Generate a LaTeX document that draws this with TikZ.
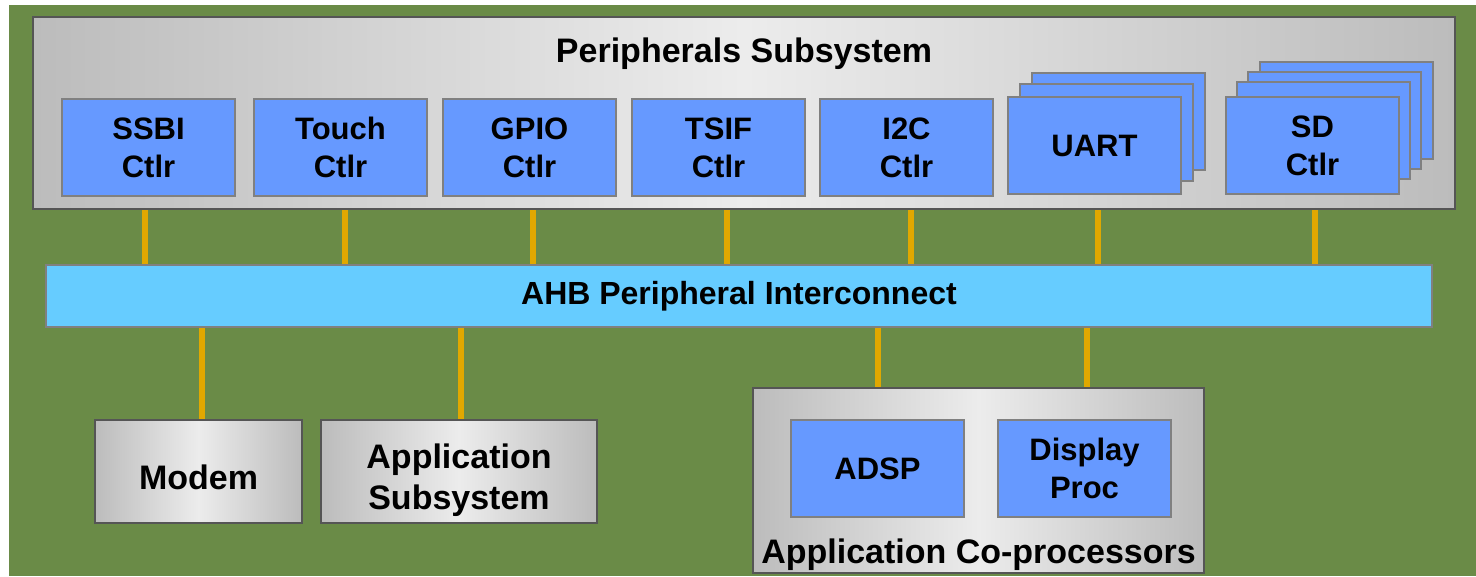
\documentclass[tikz,border=0pt]{standalone}
\usepackage{fontspec}
\setmainfont{Liberation Sans}
\definecolor{board}{RGB}{106,139,71}
\definecolor{ctlblue}{RGB}{102,153,255}
\definecolor{busblue}{RGB}{102,204,255}
\definecolor{ctlline}{RGB}{128,128,128}
\definecolor{subline}{RGB}{85,85,85}
\definecolor{shedge}{RGB}{188,188,188}
\definecolor{shmid}{RGB}{236,236,236}
\definecolor{linkcol}{RGB}{224,168,0}
\newcommand\ctlfont{\fontsize{31}{38}\selectfont\bfseries}
\newcommand\bigfont{\fontsize{34}{41}\selectfont\bfseries}
\newcommand\busfont{\fontsize{32}{38}\selectfont\bfseries}
\pgfdeclarelayer{ground}
\pgfdeclarelayer{links}
\pgfsetlayers{ground,links,main}
\begin{document}
\begin{tikzpicture}[x=1pt,y=-1pt,
  box/.style={rectangle, inner sep=0pt, outer sep=0pt, anchor=north west, align=center},
  ctl/.style={box, draw=ctlline, line width=2pt, fill=ctlblue, font=\ctlfont,
              minimum width=173pt, minimum height=97pt},
  sub/.style={box, draw=subline, line width=2pt,
              left color=shedge, right color=shedge, middle color=shmid},
  link/.style={draw=linkcol, line width=6pt}]
\useasboundingbox (0,0) rectangle (1476,576);
\begin{pgfonlayer}{ground}
  \fill[white] (0,0) rectangle (1476,576);
  \fill[board] (9,5) rectangle (1476,576);
\end{pgfonlayer}

% peripherals subsystem
\node[sub, minimum width=1422pt, minimum height=192pt] (peri) at (33,17) {};
\node[font=\bigfont, anchor=base, inner sep=0pt] (perititle) at (744,62) {Peripherals Subsystem};
\node[ctl] (ssbi)  at (62,99)  {SSBI\\Ctlr};
\node[ctl] (touch) at (254,99) {Touch\\Ctlr};
\node[ctl] (gpio)  at (443,99) {GPIO\\Ctlr};
\node[ctl] (tsif)  at (632,99) {TSIF\\Ctlr};
\node[ctl] (itwoc) at (820,99) {I2C\\Ctlr};
% stacked UART instances
\node[ctl] (uartc) at (1032,73) {};
\node[ctl] (uartb) at (1020,84) {};
\node[ctl] (uart)  at (1008,97) {UART};
% stacked SD controllers
\node[ctl] (sdd) at (1260,62) {};
\node[ctl] (sdc) at (1248,72) {};
\node[ctl] (sdb) at (1237,82) {};
\node[ctl] (sd)  at (1226,97) {SD\\Ctlr};

% interconnect
\node[box, draw=ctlline, line width=2pt, fill=busblue, font=\busfont,
      minimum width=1386pt, minimum height=62pt] (ahb) at (46,265) {AHB Peripheral Interconnect};

% lower subsystems
\node[sub, minimum width=207pt, minimum height=103pt,
      label={[font=\bigfont, yshift=-6pt]center:Modem}] (modem) at (95,420) {};
\node[sub, minimum width=276pt, minimum height=103pt,
      label={[font=\bigfont, align=center, yshift=-9pt]center:Application\\Subsystem}] (appsub) at (321,420) {};
\node[sub, minimum width=451pt, minimum height=185pt] (coproc) at (753,388) {};
\node[font=\bigfont, anchor=base, inner sep=0pt] (coproctitle) at (978.5,563) {Application Co-processors};
\node[ctl] (adsp) at (791,420) {ADSP};
\node[ctl] (disp) at (998,420) {Display\\Proc};

% bus links
\path (ssbi.south)  ++(-3.5,0) coordinate (l1);
\path (touch.south) ++(4,0)    coordinate (l2);
\path (gpio.south)  ++(3,0)    coordinate (l3);
\path (tsif.south)  ++(8,0)    coordinate (l4);
\path (itwoc.south) ++(4,0)    coordinate (l5);
\path (uart.south)  ++(3.5,0)  coordinate (l6);
\path (sd.south)    ++(2,0)    coordinate (l7);
\path (modem.north) ++(3.5,0)  coordinate (l8);
\path (appsub.north) ++(2,0)   coordinate (l9);
\path (adsp.north)  ++(0,0)    coordinate (l10);
\path (disp.north)  ++(2,0)    coordinate (l11);
\begin{pgfonlayer}{links}
  \foreach \c in {l1,l2,l3,l4,l5,l6,l7}
    \draw[link] (\c |- peri.south) -- (\c |- ahb.north);
  \foreach \c in {l8,l9}
    \draw[link] (\c |- ahb.south) -- (\c |- modem.north);
  \foreach \c in {l10,l11}
    \draw[link] (\c |- ahb.south) -- (\c |- coproc.north);
\end{pgfonlayer}
\end{tikzpicture}
\end{document}
